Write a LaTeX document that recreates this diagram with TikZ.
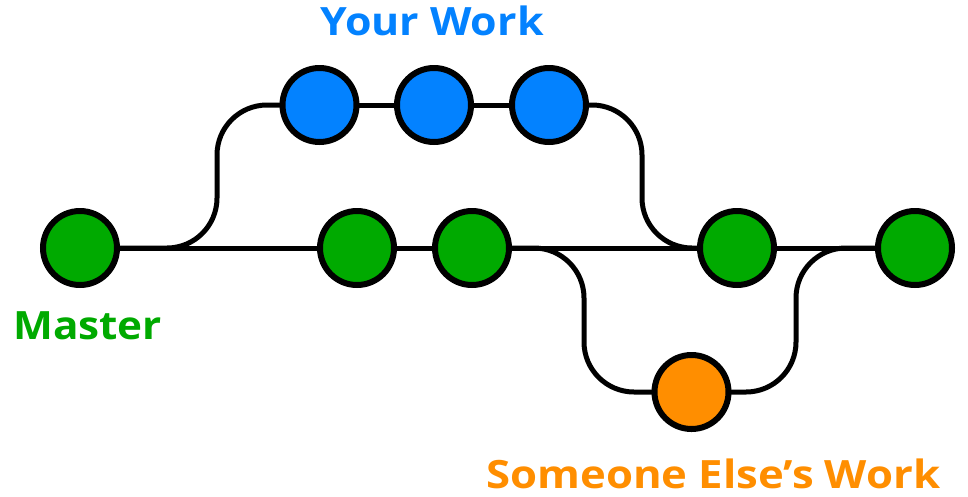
\documentclass[tikz,border=0pt]{standalone}
\usepackage{fontspec}
\setmainfont{Open Sans}[BoldFont={* Bold}]
\usetikzlibrary{backgrounds}
\definecolor{cblue}{RGB}{3,130,255}
\definecolor{cgreen}{RGB}{0,170,0}
\definecolor{corange}{RGB}{255,142,0}
\tikzset{
  commit/.style={circle, draw=black, line width=6pt, minimum size=74pt, inner sep=0pt},
  conn/.style={draw=black, line width=5pt, rounded corners=50pt},
  lbl/.style={font=\bfseries\fontsize{39}{39}\selectfont, inner sep=0pt}
}
\begin{document}
\begin{tikzpicture}[x=1pt,y=-1pt]
\useasboundingbox (0,0) rectangle (968,496);
\node[commit, fill=cgreen] (g1) at (80,248) {};
\node[commit, fill=cgreen] (g2) at (357,248) {};
\node[commit, fill=cgreen] (g3) at (472,248) {};
\node[commit, fill=cgreen] (g4) at (737,248) {};
\node[commit, fill=cgreen] (g5) at (915,248) {};
\node[commit, fill=cblue] (b1) at (319.5,105) {};
\node[commit, fill=cblue] (b2) at (434,105) {};
\node[commit, fill=cblue] (b3) at (549,105) {};
\node[commit, fill=corange] (o1) at (691.5,392) {};
\node[lbl, text=cblue, anchor=base] (tyour) at (432,35) {\scalebox{1.1}[1]{Your Work}};
\node[lbl, text=cgreen, anchor=base west] (tmaster) at (13,339) {\scalebox{1.083}[1]{Master}};
\node[lbl, text=corange, anchor=base west] (telse) at (486,488) {\scalebox{1.12}[1]{Someone Else’s Work}};
\begin{scope}[on background layer]
\fill[white] (0,0) rectangle (968,496);
\draw[conn] (g1.center) -- (g5.center);
\draw[conn] (g1.center) -- ++(137,0) |- (b1.center);
\draw[conn] (b1.center) -- (b3.center);
\draw[conn] (b3.center) -- ++(93,0) |- (g4.center);
\draw[conn] (g3.center) -- ++(112,0) |- (o1.center);
\draw[conn] (o1.center) -- ++(104.5,0) |- (g5.center);
\end{scope}
\end{tikzpicture}
\end{document}
